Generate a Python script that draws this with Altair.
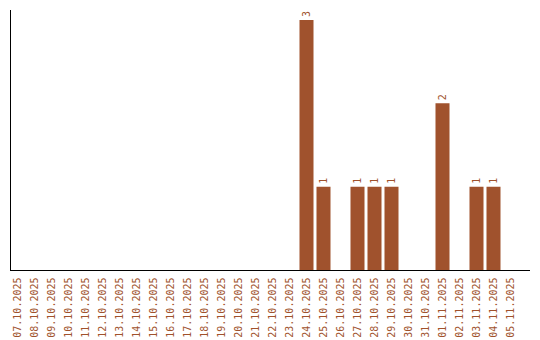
import altair as alt
import pandas as pd

dates = [
    "07.10.2025", "08.10.2025", "09.10.2025", "10.10.2025", "11.10.2025",
    "12.10.2025", "13.10.2025", "14.10.2025", "15.10.2025", "16.10.2025",
    "17.10.2025", "18.10.2025", "19.10.2025", "20.10.2025", "21.10.2025",
    "22.10.2025", "23.10.2025", "24.10.2025", "25.10.2025", "26.10.2025",
    "27.10.2025", "28.10.2025", "29.10.2025", "30.10.2025", "31.10.2025",
    "01.11.2025", "02.11.2025", "03.11.2025", "04.11.2025", "05.11.2025",
]
counts = [0, 0, 0, 0, 0, 0, 0, 0, 0, 0,
          0, 0, 0, 0, 0, 0, 0, 3, 1, 0,
          1, 1, 1, 0, 0, 2, 0, 1, 1, 0]

COLOR = "#a0522d"
FONT = "DejaVu Sans Mono"

df = pd.DataFrame({"date": dates, "count": counts})

x = alt.X(
    "date:N", sort=dates,
    scale=alt.Scale(paddingInner=0.176, paddingOuter=0.088),
    axis=alt.Axis(title=None, labelAngle=270, labelAlign="right", labelBaseline="middle",
                  ticks=False, domain=False, labelPadding=7, labelFont=FONT,
                  labelFontSize=10, labelColor=COLOR),
)
y = alt.Y("count:Q", scale=alt.Scale(domain=[0, 3.12], nice=False), axis=None)

bars = alt.Chart(df).mark_bar(color=COLOR).encode(x=x, y=y)
labels = alt.Chart(df).transform_filter("datum.count > 0").mark_text(
    angle=270, align="left", baseline="middle", dx=3, font=FONT, fontSize=10, color=COLOR
).encode(x=x, y=y, text="count:Q")

one = pd.DataFrame({"a": [0]})
yline = alt.Chart(one).mark_rule(color="black", strokeWidth=1).encode(
    x=alt.value(1.5), y=alt.value(0), y2=alt.value(260.5))
xline = alt.Chart(one).mark_rule(color="black", strokeWidth=1).encode(
    x=alt.value(1), x2=alt.value(521), y=alt.value(260.5))

chart = alt.layer(bars, labels, yline, xline).properties(
    width=510, height=260,
    autosize=alt.AutoSizeParams(type="none"),
    padding={"left": 9, "top": 10, "right": 21, "bottom": 70},
).configure_view(stroke=None)

chart.save("out.html", embed_options={"renderer": "svg", "actions": False})
